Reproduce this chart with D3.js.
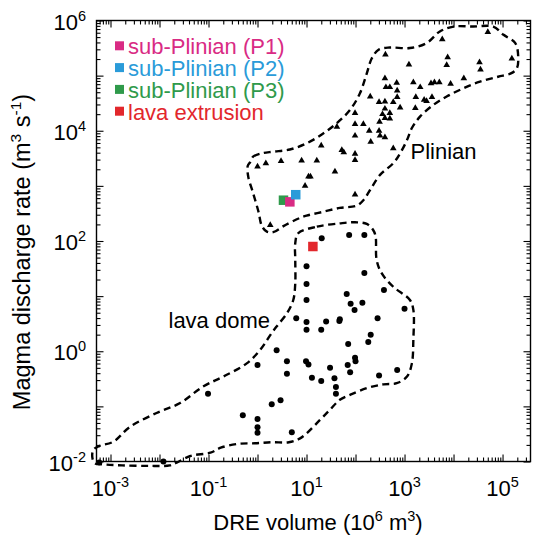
<!DOCTYPE html>
<html>
<head>
<meta charset="utf-8">
<script src="https://cdn.jsdelivr.net/npm/d3@7"></script>
<style>
  body { margin: 0; background: #fff; }
  svg { display: block; font-family: "Liberation Sans", Arial, Helvetica, sans-serif; }
</style>
</head>
<body>
<svg id="chart" width="533" height="537"></svg>
<script>
// ---- axis extents and labelled decades ----
const xDomain = [5.18e-4, 3.72e5];      // DRE volume (10^6 m^3)
const yDomain = [1e-2, 1e6];            // magma discharge rate (m^3/s)
const xLabelExps = [-3, -1, 1, 3, 5];
const yLabelExps = [-2, 0, 2, 4, 6];

// ---- eruptions, as [log10 DRE volume, log10 discharge rate] ----
const plinianEruptions = [
  [4.70,5.79],[3.77,5.66],[2.61,5.38],[3.09,5.20],[3.88,5.33],[3.86,5.19],[4.53,5.24],[4.55,5.11],[5.19,5.31],
  [2.60,4.95],[2.84,4.87],[2.62,4.79],[2.70,4.79],[2.85,4.73],[3.18,4.88],[3.32,4.79],[3.54,4.86],[3.61,4.88],
  [3.71,4.88],[3.94,4.85],[4.21,4.95],[2.30,4.62],[2.85,4.61],[3.23,4.61],[3.40,4.56],[3.45,4.54],[3.56,4.61],
  [2.48,4.52],[2.60,4.53],[2.77,4.52],[2.60,4.40],[2.91,4.42],[3.22,4.41],[1.99,4.32],[2.55,4.30],[2.70,4.32],
  [2.60,4.23],[2.70,4.22],[1.99,4.12],[2.16,4.12],[2.49,4.16],[1.62,4.07],[1.99,3.91],[2.28,4.00],[2.48,4.00],
  [2.50,3.91],[2.60,3.88],[2.31,3.80],[1.30,3.73],[1.72,3.65],[1.76,3.61],[1.99,3.58],[1.99,3.47],[2.77,3.68],
  [0.00,3.35],[0.17,3.41],[0.48,3.45],[0.90,3.46],[1.21,3.46],[1.58,3.26],[1.04,3.17],[1.08,3.17],[0.97,3.00],
  [1.99,2.84],[0.26,2.29]
];
const lavaDomeEruptions = [
  [1.31,2.05],[1.87,2.11],[2.18,2.11],[1.00,1.54],[2.18,1.42],[1.00,1.22],[1.00,0.93],[1.82,1.04],[2.58,1.11],
  [1.90,0.86],[2.14,0.88],[1.98,0.75],[3.00,0.77],[0.79,0.60],[1.00,0.53],[1.40,0.54],[1.68,0.58],[1.67,0.55],
  [2.45,0.60],[1.00,0.39],[1.30,0.39],[2.31,0.30],[2.26,0.17],[1.85,0.13],[0.39,0.02],[0.00,-0.25],[0.60,-0.18],
  [0.99,-0.18],[1.04,-0.24],[1.48,-0.30],[1.99,-0.12],[2.00,-0.18],[1.84,-0.25],[1.89,-0.38],[0.60,-0.41],
  [1.11,-0.48],[1.30,-0.54],[1.57,-0.49],[1.60,-0.65],[1.60,-0.77],[2.48,-0.44],[2.85,-0.34],[-1.01,-0.77],
  [0.29,-0.96],[0.47,-0.89],[-0.30,-1.16],[0.00,-1.23],[0.00,-1.38],[0.00,-1.48],[0.70,-1.47],[-1.92,-2.00],
  [-3.23,-2.02]
];

// ---- this study's phases ----
const phaseLabels = ["sub-Plinian (P1)", "sub-Plinian (P2)", "sub-Plinian (P3)", "lava extrusion"];
const phaseColors = ["#d92b84", "#2a9bd9", "#2f9a4b", "#e2272c"];
const phaseValues = [[0.66, 2.71], [0.78, 2.84], [0.53, 2.74], [1.13, 1.90]];
const phaseDrawOrder = [2, 0, 1, 3];

// ---- outlines of the two eruption fields (log10 volume, log10 rate) ----
const plinianField = [
  [-0.15,3.43],[-0.09,3.53],[0.09,3.59],[0.32,3.62],[0.66,3.66],[1.00,3.77],[1.34,3.95],[1.62,4.14],[1.89,4.38],
  [2.09,4.68],[2.23,5.04],[2.33,5.31],[2.47,5.47],[2.70,5.51],[3.11,5.50],[3.45,5.59],[3.72,5.80],[4.00,5.89],
  [4.40,5.89],[4.81,5.89],[5.02,5.74],[5.26,5.59],[5.32,5.34],[5.29,5.13],[5.17,5.04],[4.91,4.98],[4.54,4.89],
  [4.20,4.77],[3.86,4.62],[3.59,4.47],[3.32,4.26],[3.15,4.05],[3.05,3.83],[2.91,3.59],[2.77,3.41],[2.50,3.20],
  [2.30,2.93],[2.16,2.74],[2.02,2.64],[1.68,2.60],[1.34,2.53],[1.00,2.46],[0.87,2.42],[0.53,2.27],[0.32,2.16],
  [0.19,2.17],[0.09,2.27],[0.02,2.53],[-0.09,2.87],[-0.19,3.17],[-0.20,3.36]
];
const lavaDomeField = [
  [0.83,2.14],[1.21,2.26],[1.68,2.32],[1.99,2.34],[2.23,2.31],[2.36,2.20],[2.41,2.08],[2.43,1.66],[2.53,1.42],
  [2.77,1.17],[3.11,0.93],[3.18,0.75],[3.18,0.21],[3.15,-0.22],[3.05,-0.46],[2.84,-0.58],[2.57,-0.60],[2.23,-0.67],
  [1.89,-0.79],[1.68,-0.88],[1.47,-1.07],[1.27,-1.25],[0.99,-1.50],[0.85,-1.59],[0.64,-1.65],[0.29,-1.65],
  [-0.05,-1.67],[-0.40,-1.68],[-0.75,-1.75],[-0.96,-1.84],[-1.37,-1.90],[-1.65,-2.02],[-1.79,-2.07],[-2.20,-2.08],
  [-2.76,-2.07],[-3.17,-2.05],[-3.32,-2.03],[-3.37,-1.93],[-3.35,-1.79],[-3.23,-1.72],[-2.94,-1.64],[-2.60,-1.37],
  [-2.06,-1.12],[-1.58,-0.94],[-1.11,-0.64],[-0.70,-0.46],[-0.22,-0.22],[0.05,0.02],[0.29,0.33],[0.39,0.45],
  [0.60,0.69],[0.73,0.93],[0.77,1.23],[0.77,1.66],[0.77,1.96]
];

// ---- layout ----
const frame = { left: 96.5, right: 530.5, top: 20.5, bottom: 461.5 };
const svg = d3.select("#chart");
const x = d3.scaleLog().domain(xDomain).range([frame.left, frame.right]);
const y = d3.scaleLog().domain(yDomain).range([frame.bottom, frame.top]);
const px = d => x(10 ** d[0]);
const py = d => y(10 ** d[1]);

// decade ticks and the 2..9 minor ticks between them
function logTicks(domain) {
  const lo = Math.floor(Math.log10(domain[0])), hi = Math.ceil(Math.log10(domain[1]));
  const major = [], minor = [];
  for (let k = lo; k <= hi; k++) {
    const v = 10 ** k;
    if (v >= domain[0] * 0.999 && v <= domain[1] * 1.001) major.push(v);
    for (let j = 2; j <= 9; j++) {
      const m = j * 10 ** k;
      if (m > domain[0] && m < domain[1]) minor.push(m);
    }
  }
  return { major, minor };
}
const xt = logTicks(xDomain), yt = logTicks(yDomain);

function tickAxis(axisFn, scale, values, len, transform) {
  const g = svg.append("g").attr("transform", transform)
    .call(axisFn(scale).tickValues(values).tickSize(len).tickSizeOuter(0).tickFormat(""));
  g.select(".domain").remove();
  g.selectAll(".tick line").attr("stroke", "#000").attr("stroke-width", 1.1);
  return g;
}
// inward ticks on all four sides
[[xt.major, 7], [xt.minor, 4]].forEach(([vals, len]) => {
  tickAxis(d3.axisBottom, x, vals, -len, `translate(0,${frame.bottom})`);
  tickAxis(d3.axisTop, x, vals, -len, `translate(0,${frame.top})`);
});
[[yt.major, 7], [yt.minor, 4]].forEach(([vals, len]) => {
  tickAxis(d3.axisLeft, y, vals, -len, `translate(${frame.left},0)`);
  tickAxis(d3.axisRight, y, vals, -len, `translate(${frame.right},0)`);
});

svg.append("rect")
  .attr("x", frame.left).attr("y", frame.top)
  .attr("width", frame.right - frame.left).attr("height", frame.bottom - frame.top)
  .attr("fill", "none").attr("stroke", "#000").attr("stroke-width", 1.4);

// text with raised parts: parts = [[string, isSuperscript], ...]
function richText(sel, parts, supSize, rise) {
  let up = false;
  parts.forEach(([s, sup]) => {
    const t = sel.append("tspan").text(s);
    if (sup) {
      t.attr("font-size", supSize);
      if (!up) { t.attr("dy", -rise); up = true; }
    } else if (up) { t.attr("dy", rise); up = false; }
  });
}

const tickFont = 22, supFont = 14.5, supRise = 9;
svg.append("g").selectAll("text").data(xLabelExps).join("text")
  .attr("x", d => x(10 ** d)).attr("y", 496)
  .attr("text-anchor", "middle").attr("font-size", tickFont)
  .each(function (d) { richText(d3.select(this), [["10", false], [String(d), true]], supFont, supRise); });

svg.append("g").selectAll("text").data(yLabelExps).join("text")
  .attr("x", 86).attr("y", d => y(10 ** d) + 9)
  .attr("text-anchor", "end").attr("font-size", tickFont)
  .each(function (d) { richText(d3.select(this), [["10", false], [String(d), true]], supFont, supRise); });

// axis titles
const xTitle = svg.append("text").attr("x", 318).attr("y", 530)
  .attr("text-anchor", "middle").attr("font-size", 22);
richText(xTitle, [["DRE volume (10", false], ["6", true], [" m", false], ["3", true], [")", false]], 14.5, 9);

const yTitle = svg.append("text").attr("transform", "translate(30,252) rotate(-90)")
  .attr("text-anchor", "middle").attr("font-size", 23.5);
richText(yTitle, [["Magma discharge rate (m", false], ["3", true], [" s", false], ["-1", true], [")", false]], 15.5, 9.5);

// field outlines
const outline = d3.line().x(px).y(py).curve(d3.curveCatmullRomClosed.alpha(0.5));
svg.append("g").selectAll("path").data([plinianField, lavaDomeField]).join("path")
  .attr("d", outline)
  .attr("fill", "none").attr("stroke", "#000").attr("stroke-width", 2.4)
  .attr("stroke-dasharray", "7 4.5");

// Plinian eruptions (triangles) and lava domes (dots)
svg.append("g").selectAll("path").data(plinianEruptions).join("path")
  .attr("transform", d => `translate(${px(d)},${py(d)})`)
  .attr("d", d3.symbol(d3.symbolTriangle, 19)())
  .attr("fill", "#000");

svg.append("g").selectAll("circle").data(lavaDomeEruptions).join("circle")
  .attr("cx", px).attr("cy", py).attr("r", 3).attr("fill", "#000");

// phases of this eruption
const sq = 9.5;
svg.append("g").selectAll("rect").data(phaseDrawOrder).join("rect")
  .attr("x", i => px(phaseValues[i]) - sq / 2).attr("y", i => py(phaseValues[i]) - sq / 2)
  .attr("width", sq).attr("height", sq)
  .attr("fill", i => phaseColors[i]);

// legend
const legend = svg.append("g");
phaseLabels.forEach((label, i) => {
  const base = 54.3 + i * 21.8;
  legend.append("rect").attr("x", 115).attr("y", base - 13).attr("width", 9).attr("height", 9)
    .attr("fill", phaseColors[i]);
  legend.append("text").attr("x", 128).attr("y", base).attr("font-size", 22)
    .attr("fill", phaseColors[i]).text(label);
});

// field names
svg.append("text").attr("x", 410.5).attr("y", 159).attr("font-size", 22).text("Plinian");
svg.append("text").attr("x", 168.5).attr("y", 328).attr("font-size", 22).text("lava dome");
</script>
</body>
</html>
